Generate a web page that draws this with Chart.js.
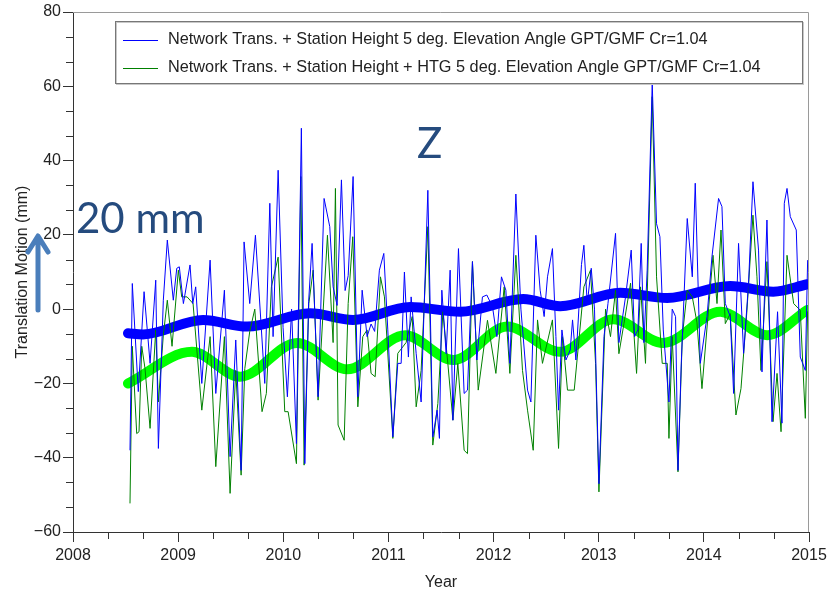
<!DOCTYPE html>
<html>
<head>
<meta charset="utf-8">
<title>Translation Motion Z</title>
<script src="https://cdn.jsdelivr.net/npm/chart.js@4.4.1/dist/chart.umd.min.js"></script>
<style>
  body { margin: 0; background: #fff; }
  canvas { display: block; }
</style>
</head>
<body>
<canvas id="grafica" width="827" height="592"></canvas>
<script>
// weekly Z solutions, network trans. + station height
const blueYears = [2008.542, 2008.564, 2008.621, 2008.676, 2008.733, 2008.787, 2008.812, 2008.859, 2008.897, 2008.954,
  2008.987, 2009.011, 2009.050, 2009.113, 2009.139, 2009.167, 2009.225, 2009.304, 2009.358, 2009.440,
  2009.494, 2009.548, 2009.599, 2009.627, 2009.681, 2009.735, 2009.792, 2009.824, 2009.872, 2009.903,
  2009.951, 2009.998, 2010.039, 2010.079, 2010.125, 2010.172, 2010.205, 2010.241, 2010.274, 2010.331,
  2010.388, 2010.442, 2010.474, 2010.512, 2010.553, 2010.588, 2010.617, 2010.664, 2010.709, 2010.750,
  2010.797, 2010.835, 2010.869, 2010.914, 2010.956, 2010.994, 2011.042, 2011.089, 2011.121, 2011.152,
  2011.190, 2011.216, 2011.264, 2011.311, 2011.375, 2011.422, 2011.463, 2011.485, 2011.508, 2011.549,
  2011.587, 2011.613, 2011.666, 2011.720, 2011.752, 2011.799, 2011.841, 2011.894, 2011.936, 2011.990,
  2012.031, 2012.075, 2012.117, 2012.155, 2012.212, 2012.260, 2012.323, 2012.355, 2012.402, 2012.443,
  2012.481, 2012.513, 2012.560, 2012.593, 2012.618, 2012.650, 2012.688, 2012.729, 2012.751, 2012.783,
  2012.836, 2012.859, 2012.891, 2012.929, 2012.960, 2013.002, 2013.050, 2013.088, 2013.160, 2013.192,
  2013.255, 2013.309, 2013.341, 2013.373, 2013.404, 2013.430, 2013.461, 2013.509, 2013.550, 2013.582,
  2013.614, 2013.668, 2013.699, 2013.731, 2013.754, 2013.785, 2013.842, 2013.890, 2013.918, 2013.966,
  2014.030, 2014.077, 2014.140, 2014.172, 2014.204, 2014.251, 2014.283, 2014.330, 2014.378, 2014.425,
  2014.467, 2014.520, 2014.553, 2014.600, 2014.648, 2014.701, 2014.743, 2014.765, 2014.791, 2014.822,
  2014.879, 2014.917, 2014.965, 2014.987];
const blueValues = [-38.0, 6.9, -22.2, 4.7, -14.6, 7.8, -37.5, 2.4, 18.6, 2.4,
  11.0, 11.4, 1.5, 11.9, 1.5, 6.0, -20.0, 13.2, -22.7, 5.1,
  -39.7, -8.3, -43.4, 18.1, 1.5, 19.9, -5.6, -20.0, 28.5, -7.4,
  37.4, -5.0, -23.6, 0.0, -36.2, 48.7, -41.6, 2.0, 17.7, -23.6,
  29.8, 22.2, 6.0, 1.0, 34.8, 5.0, 9.0, 35.7, -23.6, 5.1,
  -7.4, -4.0, -6.0, 10.5, 15.0, -5.6, -34.4, -14.6, -14.6, 10.0,
  -12.9, 3.3, -12.0, -25.0, 32.0, -34.4, -27.2, -34.8, 5.1, -12.0,
  10.5, -29.9, 16.3, -22.7, -21.8, 12.8, -13.7, 3.3, 3.8, 0.6,
  -7.4, 8.7, 5.1, -14.6, 31.0, 0.0, -21.8, -25.0, 19.9, 5.1,
  -2.0, 8.7, 16.3, -7.4, -27.2, -5.6, -13.7, -11.0, -2.9, -13.7,
  12.0, 17.2, 1.5, 11.0, 0.0, -47.0, -7.4, 1.5, 20.4, -9.0,
  3.3, 15.9, -7.4, -5.6, 17.7, -9.0, 10.5, 60.8, 23.0, 19.5,
  -5.6, -25.0, 0.0, -2.0, -43.4, -14.6, 24.4, 8.7, 33.9, -14.6,
  -2.0, 14.1, 29.8, 27.6, 1.5, -2.0, -22.7, 17.7, -11.9, 6.9,
  34.3, 15.9, -16.9, 24.0, -30.3, -0.7, -30.7, 28.5, 32.5, 24.9,
  21.3, -12.9, -16.5, 13.2];

// same network, + HTG estimated
const greenYears = [2008.542, 2008.564, 2008.606, 2008.628, 2008.654, 2008.685, 2008.733, 2008.787, 2008.812, 2008.859,
  2008.897, 2008.942, 2009.002, 2009.034, 2009.085, 2009.142, 2009.225, 2009.304, 2009.358, 2009.440,
  2009.494, 2009.548, 2009.599, 2009.634, 2009.681, 2009.729, 2009.798, 2009.839, 2009.887, 2009.951,
  2010.014, 2010.046, 2010.125, 2010.167, 2010.198, 2010.243, 2010.284, 2010.331, 2010.420, 2010.474,
  2010.496, 2010.521, 2010.579, 2010.617, 2010.661, 2010.709, 2010.756, 2010.797, 2010.835, 2010.874,
  2010.924, 2010.962, 2011.042, 2011.089, 2011.168, 2011.226, 2011.264, 2011.311, 2011.375, 2011.422,
  2011.470, 2011.518, 2011.565, 2011.613, 2011.660, 2011.720, 2011.752, 2011.799, 2011.854, 2011.942,
  2012.022, 2012.101, 2012.155, 2012.212, 2012.275, 2012.323, 2012.377, 2012.418, 2012.465, 2012.560,
  2012.618, 2012.656, 2012.703, 2012.767, 2012.815, 2012.859, 2012.922, 2012.970, 2013.002, 2013.065,
  2013.112, 2013.160, 2013.192, 2013.240, 2013.303, 2013.360, 2013.398, 2013.445, 2013.509, 2013.550,
  2013.604, 2013.652, 2013.668, 2013.699, 2013.754, 2013.795, 2013.842, 2013.890, 2013.934, 2013.982,
  2014.087, 2014.125, 2014.163, 2014.204, 2014.251, 2014.305, 2014.353, 2014.410, 2014.467, 2014.505,
  2014.543, 2014.600, 2014.658, 2014.696, 2014.734, 2014.791, 2014.854, 2014.917, 2014.965, 2014.987];
const greenValues = [-52.3, -10.0, -33.5, -33.0, -10.0, -16.0, -32.1, -5.6, -25.0, -7.0,
  2.4, -10.0, 10.5, 3.3, 3.3, 1.5, -27.2, -7.4, -42.4, -7.4,
  -49.6, -16.5, -44.7, -16.0, -6.0, 0.0, -27.6, -22.7, 6.0, 14.0,
  -27.6, -27.6, -41.6, 35.7, -42.0, 1.5, 10.5, -24.5, 19.9, -9.0,
  32.5, -31.2, -35.3, 1.5, 19.5, -26.3, -7.4, -5.6, -17.3, -18.2,
  8.7, 3.3, -34.8, -11.9, -9.0, -2.0, -26.3, -16.5, 22.2, -36.6,
  -25.4, -0.7, -14.6, -29.9, -14.6, -38.0, -38.9, 12.8, -21.8, -3.0,
  -17.3, 6.0, -17.3, 14.5, -16.5, -27.2, -38.0, -2.9, -14.6, -2.9,
  -37.5, -7.4, -21.8, -21.8, -7.4, 6.0, 10.5, -14.6, -49.2, 0.0,
  -7.4, 5.1, -12.0, -3.9, 7.0, -17.3, 6.0, -14.6, 57.2, 8.7,
  -14.6, -14.6, -34.8, -7.4, -43.8, -7.4, 5.1, 3.3, -3.5, -21.4,
  14.5, 1.5, 21.3, -3.9, -1.2, -28.5, -21.4, -0.3, 25.3, 8.7,
  -16.5, 12.8, -30.3, -17.3, -33.0, 14.5, 1.5, -0.3, -29.4, -0.6];

// trend + annual signal, turning points of the fitted curves
const blueFitYears = [2008.523, 2008.666, 2009.237, 2009.656, 2010.255, 2010.664, 2011.206, 2011.682,
  2012.282, 2012.634, 2013.205, 2013.652, 2014.251, 2014.660, 2014.984];
const blueFitValues = [-6.5, -6.8, -2.9, -4.7, -1.1, -2.9, 0.6, -0.7, 2.7, 0.8, 4.4, 3.0, 6.2, 4.7, 6.7];
const greenFitYears = [2008.523, 2009.132, 2009.589, 2010.131, 2010.607, 2011.159, 2011.616, 2012.129,
  2012.634, 2013.138, 2013.614, 2014.156, 2014.603, 2014.984];
const greenFitValues = [-20.0, -11.5, -18.2, -9.1, -16.2, -7.0, -13.7, -4.7, -11.5, -2.7, -9.1, -0.7, -7.0, -0.2];

const legendLabels = [
  'Network Trans. + Station Height 5 deg. Elevation Angle GPT/GMF Cr=1.04',
  'Network Trans. + Station Height + HTG 5 deg. Elevation Angle GPT/GMF Cr=1.04'
];
const yearRange = [2008, 2015];
const mmRange = [-60, 80];

const FONT = "'Liberation Sans', Arial, sans-serif";
Chart.defaults.font.family = FONT;
Chart.defaults.font.size = 16;
Chart.defaults.color = '#222';

const puntos = (xs, ys) => xs.map((x, i) => ({ x: x, y: ys[i] }));

// frame, minor ticks, legend box and the slide notes
const marco = {
  id: 'marco',
  afterDraw(chart) {
    const ctx = chart.ctx;
    const area = chart.chartArea;
    const sx = chart.scales.x;
    const sy = chart.scales.y;
    ctx.save();

    ctx.strokeStyle = '#9a9a9a';
    ctx.lineWidth = 1;
    ctx.beginPath();
    ctx.moveTo(area.left, area.top + 0.5);
    ctx.lineTo(area.right - 0.5, area.top + 0.5);
    ctx.lineTo(area.right - 0.5, area.bottom);
    ctx.stroke();

    ctx.strokeStyle = '#333';
    ctx.beginPath();
    for (let k = 1; k < 21; k++) {
      if (k % 3 === 0) continue;
      const px = Math.round(sx.getPixelForValue(yearRange[0] + k / 3)) + 0.5;
      ctx.moveTo(px, area.bottom);
      ctx.lineTo(px, area.bottom + 7);
      const py = Math.round(sy.getPixelForValue(mmRange[0] + k * 20 / 3)) + 0.5;
      ctx.moveTo(area.left, py);
      ctx.lineTo(area.left - 7, py);
    }
    ctx.stroke();

    // legend
    const lx = 115, ly = 21, lw = 687, lh = 62;
    ctx.fillStyle = '#fff';
    ctx.fillRect(lx, ly, lw, lh);
    ctx.strokeStyle = '#c8c8c8';
    ctx.strokeRect(lx + 1.5, ly + 1.5, lw, lh);
    ctx.strokeStyle = '#777';
    ctx.strokeRect(lx + 0.5, ly + 0.5, lw, lh);
    const colores = ['#0000ff', '#008000'];
    ctx.font = '16.3px ' + FONT;
    ctx.textBaseline = 'middle';
    legendLabels.forEach((t, i) => {
      const yy = ly + 19 + i * 28;
      ctx.strokeStyle = colores[i];
      ctx.beginPath();
      ctx.moveTo(lx + 8, yy + 0.5);
      ctx.lineTo(lx + 43, yy + 0.5);
      ctx.stroke();
      ctx.fillStyle = '#222';
      ctx.fillText(t, lx + 53, yy);
    });

    // notes on top of the chart
    ctx.fillStyle = '#254b7e';
    ctx.font = '42px Lato, sans-serif';
    ctx.textBaseline = 'alphabetic';
    ctx.fillText('Z', 417, 158);
    ctx.fillText('20 mm', 76, 233);

    ctx.strokeStyle = '#4a7ebb';
    ctx.lineWidth = 5;
    ctx.lineCap = 'round';
    ctx.lineJoin = 'round';
    ctx.beginPath();
    ctx.moveTo(38, 310);
    ctx.lineTo(38, 238);
    ctx.moveTo(28, 252);
    ctx.lineTo(38, 236);
    ctx.lineTo(48, 252);
    ctx.stroke();

    ctx.restore();
  }
};

const chart = new Chart(document.getElementById('grafica'), {
  type: 'line',
  data: {
    datasets: [
      { label: legendLabels[0], data: puntos(blueYears, blueValues), borderColor: '#0000ff', borderWidth: 1, pointRadius: 0, tension: 0 },
      { label: legendLabels[1], data: puntos(greenYears, greenValues), borderColor: '#008000', borderWidth: 1, pointRadius: 0, tension: 0 },
      { label: 'fit 1', data: puntos(blueFitYears, blueFitValues), borderColor: '#0000ff', borderWidth: 10,
        pointRadius: 0, cubicInterpolationMode: 'monotone', borderCapStyle: 'round', borderJoinStyle: 'round' },
      { label: 'fit 2', data: puntos(greenFitYears, greenFitValues), borderColor: '#00ff00', borderWidth: 10,
        pointRadius: 0, cubicInterpolationMode: 'monotone', borderCapStyle: 'round', borderJoinStyle: 'round' }
    ]
  },
  options: {
    responsive: false,
    animation: false,
    layout: { padding: { top: 12, right: 0, left: 0, bottom: 0 } },
    plugins: { legend: { display: false }, tooltip: { enabled: false } },
    scales: {
      x: {
        type: 'linear', min: yearRange[0], max: yearRange[1],
        ticks: { stepSize: 1, padding: 4, maxRotation: 0, autoSkip: false, callback: v => String(v) },
        grid: { drawOnChartArea: false, tickLength: 10, tickColor: '#333' },
        border: { color: '#333' },
        title: { display: true, text: 'Year', padding: 0 },
        afterFit: s => { s.height = 60; s.paddingRight = 18; }
      },
      y: {
        min: mmRange[0], max: mmRange[1],
        ticks: { stepSize: 20, padding: 2, callback: v => v < 0 ? '\u2212' + (-v) : String(v) },
        grid: { drawOnChartArea: false, tickLength: 10, tickColor: '#333' },
        border: { color: '#333' },
        title: { display: true, text: 'Translation Motion (mm)', padding: { top: 13, bottom: 0 } },
        afterFit: s => { s.width = 73; }
      }
    }
  },
  plugins: [marco]
});
</script>
</body>
</html>
